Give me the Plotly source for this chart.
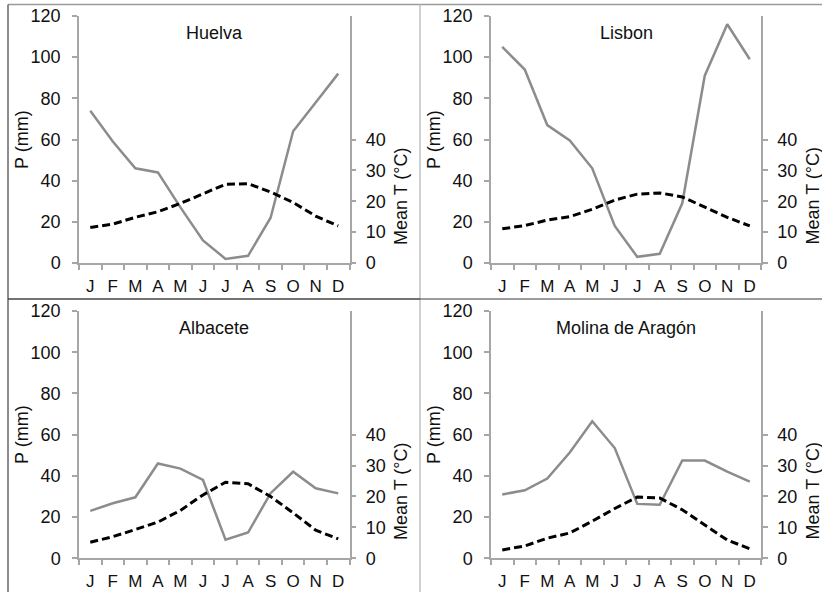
import plotly.graph_objects as go

W, H = 822, 592

months = ["J", "F", "M", "A", "M", "J", "J", "A", "S", "O", "N", "D"]
stations = ["Huelva", "Lisbon", "Albacete", "Molina de Aragón"]

huelva_p = [74, 59, 46, 44, 27, 11, 2, 3.5, 22, 64, 78, 92]
huelva_t = [11.5, 12.6, 14.8, 16.6, 19.3, 22.5, 25.5, 25.7, 23, 19.6, 15.2, 12]

lisbon_p = [105, 94, 67, 59.5, 46, 18, 3, 4.5, 29, 91, 116, 99]
lisbon_t = [11.1, 12.1, 13.9, 15, 17.4, 20.4, 22.3, 22.7, 21.4, 18.2, 14.8, 12]

albacete_p = [23, 26.7, 29.6, 46, 43.5, 38, 9, 12.5, 31.6, 42, 34, 31.5]
albacete_t = [5.2, 7, 9.3, 11.7, 15.5, 20.5, 24.6, 24.1, 20, 14.7, 9.1, 6.3]

molina_p = [31, 33, 38.7, 51.3, 66.5, 53.5, 26.4, 26, 47.5, 47.4, 42, 37.2]
molina_t = [2.7, 4, 6.5, 8.2, 12, 16.1, 19.8, 19.5, 15.7, 10.9, 5.9, 3.1]

p_ticks = [0, 20, 40, 60, 80, 100, 120]
t_ticks = [0, 10, 20, 30, 40]

precip = [huelva_p, lisbon_p, albacete_p, molina_p]
temp = [huelva_t, lisbon_t, albacete_t, molina_t]

FONT = "Arial, Liberation Sans, sans-serif"
AXIS_COL = "#a6a6a6"
P_COL = "#8c8c8c"

# panel pixel boxes: (left, right, top, bottom)
boxes = [
    (79, 349.5, 16, 263),
    (491, 761, 16, 263),
    (79, 349.5, 311, 558.3),
    (491, 761, 311, 558.3),
]

def px(x):
    return x / W

def py(y):
    return 1 - y / H

fig = go.Figure()
layout = dict(
    width=W, height=H, margin=dict(l=0, r=0, t=0, b=0, pad=0), autosize=False,
    paper_bgcolor="white", plot_bgcolor="rgba(0,0,0,0)",
    showlegend=False, font=dict(family=FONT, size=18, color="#111"),
)

xs = list(range(12))
annotations = []
for i, (l, r, t, b) in enumerate(boxes):
    n = i + 1
    yl = 2 * n - 1
    yr = 2 * n
    xname = "x" if n == 1 else f"x{n}"
    ylname = "y" if yl == 1 else f"y{yl}"
    yrname = f"y{yr}"
    fig.add_trace(go.Scatter(x=xs, y=precip[i], xaxis=xname, yaxis=ylname, mode="lines",
                             line=dict(color=P_COL, width=2.5), hoverinfo="skip"))
    fig.add_trace(go.Scatter(x=xs, y=temp[i], xaxis=xname, yaxis=yrname, mode="lines",
                             line=dict(color="black", width=3, dash="8px,4px"), hoverinfo="skip"))
    xkey = "xaxis" if n == 1 else f"xaxis{n}"
    ylkey = "yaxis" if yl == 1 else f"yaxis{yl}"
    yrkey = f"yaxis{yr}"
    layout[xkey] = dict(
        domain=[px(l), px(r)], anchor=ylname, range=[-0.5, 11.5], automargin=False,
        tickmode="array", tickvals=xs, ticktext=months, ticks="", ticklen=0,
        ticklabelstandoff=7, tickfont=dict(size=17, family=FONT, color="#111"),
        showline=True, linecolor=AXIS_COL, linewidth=1.5, showgrid=False, zeroline=False,
        minor=dict(tickmode="array", tickvals=[k - 0.5 for k in range(13)], ticks="outside",
                   ticklen=5, tickcolor=AXIS_COL, tickwidth=1.5, showgrid=False),
        fixedrange=True,
    )
    layout[ylkey] = dict(
        domain=[py(b), py(t)], anchor=xname, range=[0, 120], tickvals=p_ticks, automargin=False,
        ticks="outside", ticklen=5, tickcolor=AXIS_COL, tickwidth=1.5, ticklabelstandoff=8,
        showline=True, linecolor=AXIS_COL, linewidth=1.5, showgrid=False, zeroline=False,
        tickfont=dict(size=18, family=FONT, color="#111"), fixedrange=True,
    )
    layout[yrkey] = dict(
        domain=[py(b), py(t)], anchor=xname, overlaying=ylname, side="right", range=[0, 80],
        tickvals=t_ticks, ticks="outside", ticklen=5, tickcolor=AXIS_COL, tickwidth=1.5,
        ticklabelstandoff=6, automargin=False,
        showline=True, linecolor=AXIS_COL, linewidth=1.5, showgrid=False, zeroline=False,
        tickfont=dict(size=18, family=FONT, color="#111"), fixedrange=True,
    )
    cx = (l + r) / 2
    annotations.append(dict(text=stations[i], x=px(cx), y=py(t + 17), xref="paper", yref="paper",
                            showarrow=False, xanchor="center", yanchor="middle",
                            font=dict(size=18, family=FONT, color="#111")))
    annotations.append(dict(text="P (mm)", x=px(l - 57), y=py(t + 124), xref="paper", yref="paper",
                            showarrow=False, xanchor="center", yanchor="middle", textangle=-90,
                            font=dict(size=18, family=FONT, color="#111")))
    annotations.append(dict(text="Mean T (°C)", x=px(r + 51.5), y=py(t + 180), xref="paper", yref="paper",
                            showarrow=False, xanchor="center", yanchor="middle", textangle=-90,
                            font=dict(size=18, family=FONT, color="#111")))

layout["annotations"] = annotations

shapes = []
def line(x0, y0, x1, y1, color, width=1.5):
    shapes.append(dict(type="line", xref="paper", yref="paper", x0=px(x0), y0=py(y0),
                       x1=px(x1), y1=py(y1), line=dict(color=color, width=width), layer="below"))

line(8, 4.5, 822, 4.5, "#9a9a9a")
line(8, 4.5, 8, 592, "#666666")
line(420, 4.5, 420, 592, "#c0c0c0")
line(8, 299, 420, 299, "#444444")
line(420, 299, 822, 299, "#7a7a7a")
layout["shapes"] = shapes

fig.update_layout(**layout)
fig.write_html(
    "out.html",
    config={"displayModeBar": False},
    post_script=(
        "document.body.style.margin='0px';document.body.style.padding='0px';"
        "document.body.style.overflow='hidden';"
    ),
)
